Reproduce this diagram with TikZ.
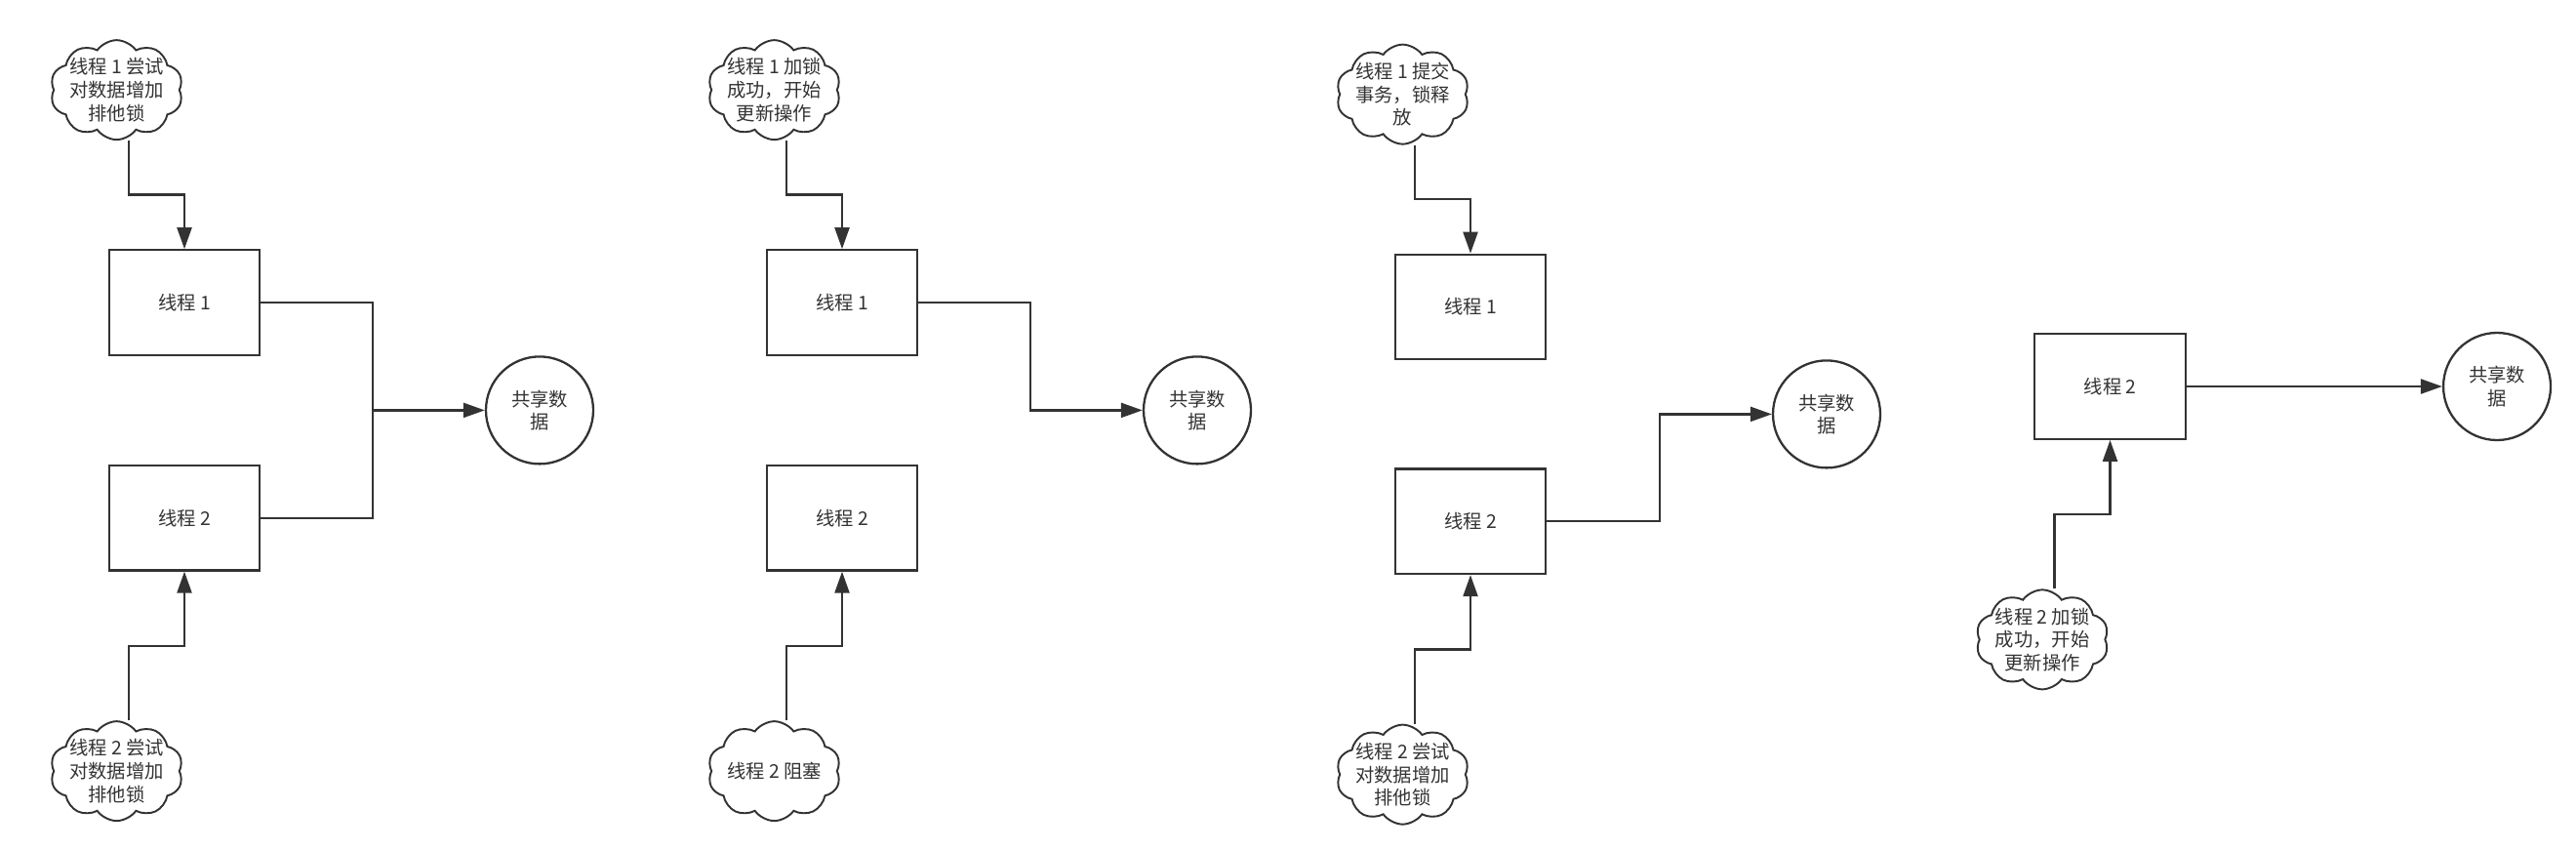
\documentclass[tikz,border=0pt]{standalone}
\usepackage{fontspec}
\setmainfont{Noto Sans CJK SC}
\usetikzlibrary{positioning, shapes.symbols, arrows.meta, calc}

\definecolor{strichgrau}{HTML}{333333}

\begin{document}
\begin{tikzpicture}[
    thread/.style={draw=strichgrau, line width=1.3pt, rectangle, minimum width=3.09cm, minimum height=2.15cm, font=\fontsize{11}{13.4}\selectfont, text=strichgrau},
    note/.style={draw=strichgrau, line width=1.1pt, cloud, cloud puffs=10, cloud puff arc=110, cloud ignores aspect, minimum width=2.72cm, minimum height=2.04cm, inner xsep=-6pt, inner ysep=-4pt, align=center, font=\fontsize{11}{13.4}\selectfont, text=strichgrau},
    shared/.style={draw=strichgrau, line width=1.3pt, circle, minimum size=2.2cm, inner sep=0pt, align=center, font=\fontsize{11}{13.4}\selectfont, text=strichgrau},
    wire/.style={draw=strichgrau, line width=1.3pt},
    arr/.style={wire, -{Triangle[length=0.44cm, width=0.3cm]}}
]
\useasboundingbox (0,0) rectangle (52.8,-17.4);

% Knoten
\node[thread] (tA1) at (3.78,-6.2) {线程 1};
\node[thread, below=2.22cm of tA1] (tA2) {线程 2};
\node[note, above=2.22cm of tA1, xshift=-1.39cm] (nA1) {线程 1 尝试\\对数据增加\\排他锁};
\node[note, below=3.05cm of tA2, xshift=-1.39cm] (nA2) {线程 2 尝试\\对数据增加\\排他锁};
\node[shared] (dA) at ($(tA1)!0.5!(tA2)+(7.28,0)$) {共享数\\据};

\node[thread] (tB1) at (17.26,-6.2) {线程 1};
\node[thread, below=2.22cm of tB1] (tB2) {线程 2};
\node[note, above=2.22cm of tB1, xshift=-1.39cm] (nB1) {线程 1 加锁\\成功，开始\\更新操作};
\node[note, below=3.05cm of tB2, xshift=-1.39cm] (nB2) {线程 2 阻塞};
\node[shared] (dB) at ($(tB1)!0.5!(tB2)+(7.28,0)$) {共享数\\据};

\node[thread] (tC1) at (30.14,-6.29) {线程 1};
\node[thread, below=2.2cm of tC1] (tC2) {线程 2};
\node[note, above=2.22cm of tC1, xshift=-1.39cm] (nC1) {线程 1 提交\\事务，锁释\\放};
\node[note, below=3.05cm of tC2, xshift=-1.39cm] (nC2) {线程 2 尝试\\对数据增加\\排他锁};
\node[shared] (dC) at ($(tC1)!0.5!(tC2)+(7.3,0)$) {共享数\\据};

\node[thread] (tD2) at (43.25,-7.92) {线程 2};
\node[note, below=3.05cm of tD2, xshift=-1.39cm] (nD2) {线程 2 加锁\\成功，开始\\更新操作};
\node[shared, right=5.24cm of tD2] (dD) {共享数\\据};

\coordinate (jA) at ($(tA1.east)!0.5!(tA2.east)!0.5!(dA.west)$);

% Kanten
\draw[arr] ([xshift=0.25cm]nA1.south) |- ($(nA1.south)!0.5!(tA1.north)$) -| (tA1.north);
\draw[arr] ([xshift=0.25cm]nA2.north) |- ($(nA2.north)!0.5!(tA2.south)$) -| (tA2.south);
\draw[wire] (tA1.east) -| (jA) |- (tA2.east);
\draw[arr] (jA) -- (dA);

\draw[arr] ([xshift=0.25cm]nB1.south) |- ($(nB1.south)!0.5!(tB1.north)$) -| (tB1.north);
\draw[arr] ([xshift=0.25cm]nB2.north) |- ($(nB2.north)!0.5!(tB2.south)$) -| (tB2.south);
\draw[arr] (tB1.east) -| ($(tB1.east)!0.5!(dB.west)$) |- (dB.west);

\draw[arr] ([xshift=0.25cm]nC1.south) |- ($(nC1.south)!0.5!(tC1.north)$) -| (tC1.north);
\draw[arr] ([xshift=0.25cm]nC2.north) |- ($(nC2.north)!0.5!(tC2.south)$) -| (tC2.south);
\draw[arr] (tC2.east) -| ($(tC2.east)!0.5!(dC.west)$) |- (dC.west);

\draw[arr] ([xshift=0.25cm]nD2.north) |- ($(nD2.north)!0.5!(tD2.south)$) -| (tD2.south);
\draw[arr] (tD2.east) -- (dD);

\end{tikzpicture}
\end{document}
